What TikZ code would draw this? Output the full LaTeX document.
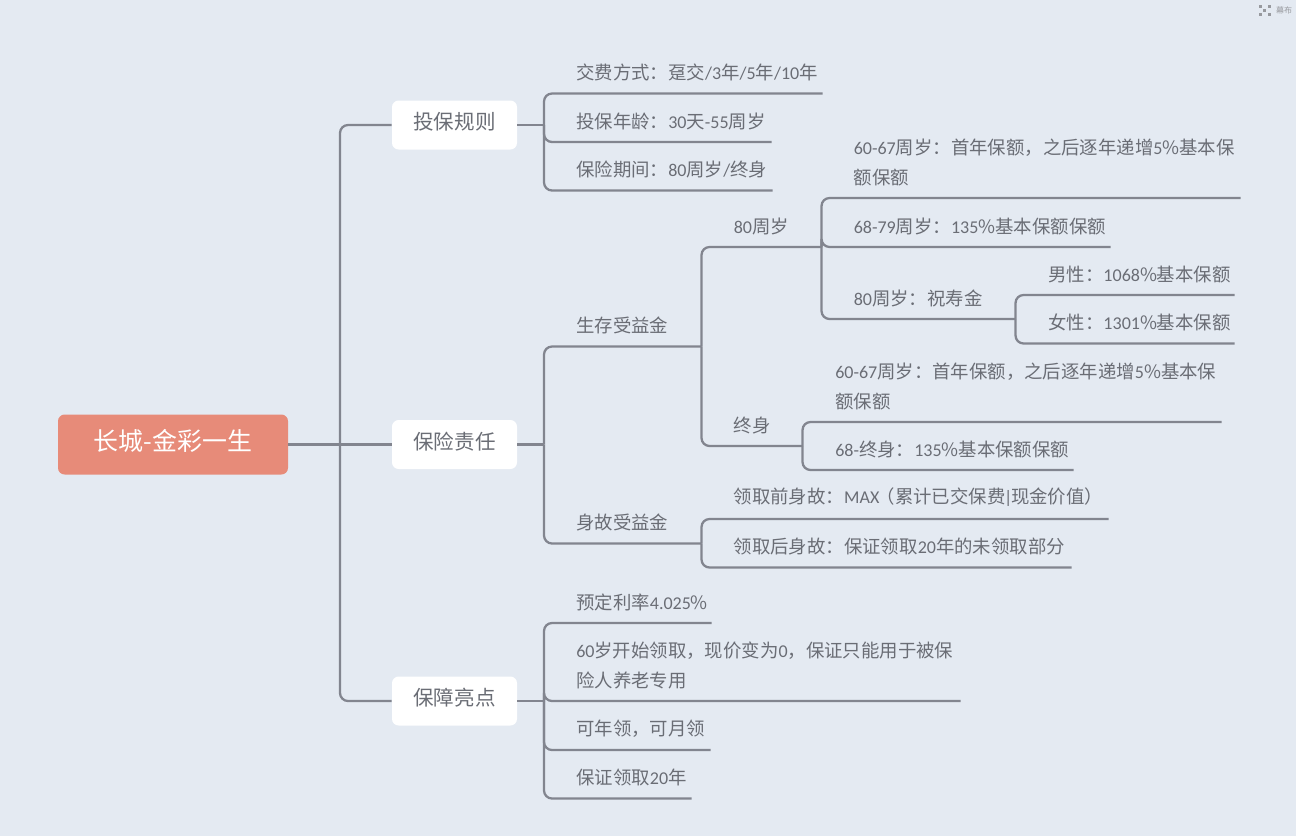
\documentclass[tikz,border=0pt]{standalone}
\usepackage{fontspec}
\setmainfont{Noto Sans CJK SC}
\newfontfamily\latinpart[Scale=0.98]{Carlito}
\newcommand{\ltn}[1]{{\latinpart #1}}
\usepackage{tikz}
\usetikzlibrary{positioning, calc}
\definecolor{canvasbg}{HTML}{E4EAF2}
\definecolor{linegray}{HTML}{82858F}
\definecolor{textgray}{HTML}{6A6D75}
\definecolor{rootred}{HTML}{E78B79}
\def\raster{0.75pt}
\tikzset{
    conn/.style={draw=linegray, line width=1.7pt, rounded corners=6pt},
    rootbox/.style={fill=rootred, text=white, rounded corners=5pt, minimum width=230*\raster, minimum height=60*\raster, inner sep=0, text height=13pt, text depth=4pt, font=\fontsize{18.7}{22}\selectfont},
    mainbox/.style={fill=white, text=textgray, rounded corners=5pt, minimum width=125*\raster, minimum height=49*\raster, inner sep=0, text height=12pt, text depth=4.8pt, font=\fontsize{15.4}{20}\selectfont},
    leaf/.style={anchor=south west, text=textgray, align=left, inner xsep=0, inner ysep=9pt, font=\fontsize{13.8}{22.5}\selectfont},
}
\begin{document}
\begin{tikzpicture}[x=\raster, y=-\raster]
    \useasboundingbox (0,0) rectangle (1296,836);
    \fill[canvasbg] (0,0) rectangle (1296,836);

    % main nodes
    \node[rootbox] (root) at (173,444.5) {长城-金彩一生};
    \node[mainbox] (rules) at (454.5,125) {投保规则};
    \node[mainbox] (duty) at (454.5,444.5) {保险责任};
    \node[mainbox] (bright) at (454.5,701) {保障亮点};

    % text above each line: name/x/y/width/text
    \foreach \nm/\xx/\yy/\ww/\txt in {
        payway/576/93.5/246/{交费方式：趸交\ltn{/3}年\ltn{/5}年\ltn{/10}年},
        age/576/142/195/{投保年龄：\ltn{30}天\ltn{-55}周岁},
        term/576/190.5/196/{保险期间：\ltn{80}周岁\ltn{/}终身},
        alive/576/346.5/125/{生存受益金},
        death/576/543.5/125/{身故受益金},
        rate/576/623/135/{预定利率\ltn{4.025}\%},
        start/576/701/384/{\ltn{60}岁开始领取，现价变为\ltn{0}，保证只能用于被保\\险人养老专用},
        monthly/576/750/134/{可年领，可月领},
        twenty/576/798.5/115/{保证领取\ltn{20}年},
        eighty/733.5/247/87.5/{\ltn{80}周岁},
        life/733.5/446/68.5/{终身},
        before/733.5/519/374.5/{领取前身故：\ltn{MAX}\kern-2pt（累计已交保费\kern-1pt\ltn{|}\kern-1pt现金价值）},
        after/733.5/567.5/337.5/{领取后身故：保证领取\ltn{20}年的未领取部分},
        firsta/853.5/198/386.5/{\ltn{60-67}周岁：首年保额，之后逐年递增\ltn{5}\%基本保\\额保额},
        seconda/853.5/247/256.5/{\ltn{68-79}周岁：\ltn{135}\%基本保额保额},
        gift/853.5/319/161.5/{\ltn{80}周岁：祝寿金},
        male/1048/295/186/{男性：\ltn{1068}\%基本保额},
        female/1048/343.5/186/{女性：\ltn{1301}\%基本保额},
        firstb/835/422/386/{\ltn{60-67}周岁：首年保额，之后逐年递增\ltn{5}\%基本保\\额保额},
        secondb/835/470/238/{\ltn{68-}终身：\ltn{135}\%基本保额保额}}{

        \node[leaf, text width=\ww*\raster] (\nm) at (\xx,\yy) {\txt\vphantom{年}};
    }

    % trunk points
    \coordinate (roottrunk) at (340,444.5);
    \coordinate (rulestrunk) at (544,125);
    \coordinate (dutytrunk) at (544,444.5);
    \coordinate (brighttrunk) at (544,701);

    \draw[conn] (root.east) -- (duty.west);
    \draw[conn] (roottrunk) |- (rules.west);
    \draw[conn] (roottrunk) |- (bright.west);
    \draw[conn] (rules.east) -- (rulestrunk);
    \draw[conn] (duty.east) -- (dutytrunk);
    \draw[conn] (bright.east) -- (brighttrunk);

    % branch to every child, underline included
    \foreach \from/\to in {
        rulestrunk/payway.south east, rulestrunk/age.south east, rulestrunk/term.south east,
        dutytrunk/alive.south east, dutytrunk/death.south east,
        brighttrunk/rate.south east, brighttrunk/start.south east,
        brighttrunk/monthly.south east, brighttrunk/twenty.south east,
        alive.south east/eighty.south east, alive.south east/life.south east,
        death.south east/before.south east, death.south east/after.south east,
        eighty.south east/firsta.south east, eighty.south east/seconda.south east,
        eighty.south east/gift.south east,
        gift.south east/male.south east, gift.south east/female.south east,
        life.south east/firstb.south east, life.south east/secondb.south east}{

        \draw[conn] (\from) |- (\to);
    }

    % canvas mark in the corner
    \foreach \xx/\yy in {1259/5, 1268/5, 1259/13, 1268/13}{
        \fill[textgray!70] (\xx,\yy) rectangle ++(2.5,2.5);
    }
    \fill[textgray!70] (1263,9) rectangle ++(2.5,2.5);
    \node[text=textgray!70, inner sep=0, font=\fontsize{6}{7}\selectfont] (canvas) at (1284,10) {幕布};
\end{tikzpicture}
\end{document}
